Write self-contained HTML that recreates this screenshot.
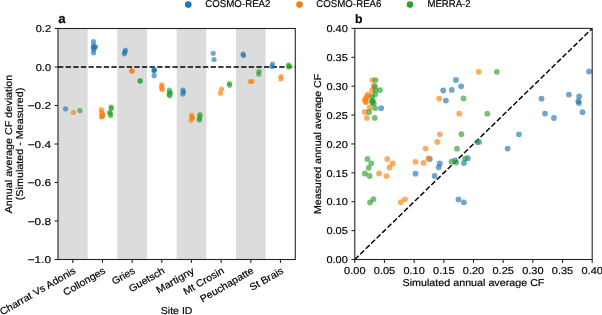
<!DOCTYPE html>
<html><head><meta charset="utf-8"><style>
html,body{margin:0;padding:0;background:#fff;}
body{width:602px;height:315px;overflow:hidden;}
svg{display:block;will-change:transform;}
text{font-family:"Liberation Sans",sans-serif;fill:#000;text-rendering:geometricPrecision;stroke:#000;stroke-width:0.18px;}
</style></head><body>
<svg width="602" height="315" viewBox="0 0 602 315">
<rect x="0" y="0" width="602" height="315" fill="#fff"/>
<g fill="#dcdcdc">
<rect x="58.00" y="28.5" width="29.66" height="231.0"/>
<rect x="117.33" y="28.5" width="29.66" height="231.0"/>
<rect x="176.65" y="28.5" width="29.66" height="231.0"/>
<rect x="235.98" y="28.5" width="29.66" height="231.0"/>
</g>
<line x1="58.0" y1="67" x2="295.3" y2="67" stroke="#000" stroke-width="1.44" stroke-dasharray="5.33 2.3"/>
<g fill="#1f77b4" fill-opacity="0.65">
<circle cx="65.60" cy="108.80" r="2.6"/>
<circle cx="93.50" cy="41.70" r="2.6"/>
<circle cx="93.50" cy="45.50" r="2.6"/>
<circle cx="95.50" cy="46.80" r="2.6"/>
<circle cx="93.30" cy="47.70" r="2.6"/>
<circle cx="93.90" cy="49.70" r="2.6"/>
<circle cx="93.50" cy="52.80" r="2.6"/>
<circle cx="94.20" cy="47.20" r="2.6"/>
<circle cx="125.40" cy="50.40" r="2.6"/>
<circle cx="124.80" cy="52.00" r="2.6"/>
<circle cx="124.40" cy="53.80" r="2.6"/>
<circle cx="154.20" cy="69.50" r="2.6"/>
<circle cx="154.00" cy="71.00" r="2.6"/>
<circle cx="154.10" cy="75.70" r="2.6"/>
<circle cx="154.30" cy="70.00" r="2.6"/>
<circle cx="183.00" cy="90.00" r="2.6"/>
<circle cx="183.50" cy="92.00" r="2.6"/>
<circle cx="182.70" cy="94.00" r="2.6"/>
<circle cx="213.20" cy="53.30" r="2.6"/>
<circle cx="214.00" cy="59.60" r="2.6"/>
<circle cx="243.00" cy="54.00" r="2.6"/>
<circle cx="243.60" cy="55.50" r="2.6"/>
<circle cx="272.50" cy="64.00" r="2.6"/>
<circle cx="272.00" cy="66.50" r="2.6"/>
</g>
<g fill="#ff7f0e" fill-opacity="0.65">
<circle cx="73.50" cy="112.50" r="2.6"/>
<circle cx="101.40" cy="109.70" r="2.6"/>
<circle cx="101.70" cy="112.00" r="2.6"/>
<circle cx="103.40" cy="114.90" r="2.6"/>
<circle cx="101.70" cy="116.90" r="2.6"/>
<circle cx="102.00" cy="115.40" r="2.6"/>
<circle cx="102.00" cy="113.80" r="2.6"/>
<circle cx="101.80" cy="116.50" r="2.6"/>
<circle cx="131.80" cy="70.80" r="2.6"/>
<circle cx="131.80" cy="70.80" r="2.6"/>
<circle cx="131.90" cy="70.90" r="2.6"/>
<circle cx="161.80" cy="84.80" r="2.6"/>
<circle cx="161.70" cy="86.50" r="2.6"/>
<circle cx="161.90" cy="88.50" r="2.6"/>
<circle cx="162.20" cy="89.60" r="2.6"/>
<circle cx="191.50" cy="115.00" r="2.6"/>
<circle cx="192.00" cy="117.00" r="2.6"/>
<circle cx="192.50" cy="118.00" r="2.6"/>
<circle cx="191.00" cy="120.30" r="2.6"/>
<circle cx="221.60" cy="89.10" r="2.6"/>
<circle cx="220.30" cy="93.20" r="2.6"/>
<circle cx="250.30" cy="81.30" r="2.6"/>
<circle cx="252.00" cy="81.50" r="2.6"/>
<circle cx="281.00" cy="76.50" r="2.6"/>
<circle cx="280.80" cy="79.00" r="2.6"/>
</g>
<g fill="#2ca02c" fill-opacity="0.65">
<circle cx="79.90" cy="110.60" r="2.6"/>
<circle cx="111.10" cy="107.10" r="2.6"/>
<circle cx="111.40" cy="108.60" r="2.6"/>
<circle cx="109.70" cy="112.30" r="2.6"/>
<circle cx="110.60" cy="115.40" r="2.6"/>
<circle cx="110.30" cy="113.70" r="2.6"/>
<circle cx="140.20" cy="80.90" r="2.6"/>
<circle cx="140.20" cy="80.90" r="2.6"/>
<circle cx="169.30" cy="90.20" r="2.6"/>
<circle cx="169.50" cy="92.50" r="2.6"/>
<circle cx="170.50" cy="93.00" r="2.6"/>
<circle cx="169.00" cy="94.50" r="2.6"/>
<circle cx="169.80" cy="95.80" r="2.6"/>
<circle cx="200.00" cy="114.50" r="2.6"/>
<circle cx="199.80" cy="116.50" r="2.6"/>
<circle cx="199.50" cy="118.50" r="2.6"/>
<circle cx="199.30" cy="120.00" r="2.6"/>
<circle cx="229.20" cy="83.60" r="2.6"/>
<circle cx="229.70" cy="85.20" r="2.6"/>
<circle cx="259.00" cy="71.50" r="2.6"/>
<circle cx="258.70" cy="74.10" r="2.6"/>
<circle cx="288.50" cy="65.00" r="2.6"/>
<circle cx="288.80" cy="67.00" r="2.6"/>
<circle cx="289.50" cy="66.00" r="2.6"/>
</g>
<line x1="354.8" y1="259.5" x2="592.2" y2="28.4" stroke="#000" stroke-width="1.44" stroke-dasharray="5.33 2.3"/>
<g fill="#1f77b4" fill-opacity="0.65">
<circle cx="381.10" cy="108.20" r="2.92"/>
<circle cx="455.95" cy="80.00" r="2.92"/>
<circle cx="461.10" cy="86.30" r="2.92"/>
<circle cx="443.20" cy="90.50" r="2.92"/>
<circle cx="451.80" cy="89.90" r="2.92"/>
<circle cx="445.90" cy="100.60" r="2.92"/>
<circle cx="477.30" cy="142.10" r="2.92"/>
<circle cx="467.80" cy="158.20" r="2.92"/>
<circle cx="464.00" cy="163.00" r="2.92"/>
<circle cx="455.00" cy="160.50" r="2.92"/>
<circle cx="429.80" cy="159.00" r="2.92"/>
<circle cx="439.70" cy="163.50" r="2.92"/>
<circle cx="438.70" cy="167.30" r="2.92"/>
<circle cx="434.60" cy="175.90" r="2.92"/>
<circle cx="415.50" cy="173.70" r="2.92"/>
<circle cx="458.50" cy="199.40" r="2.92"/>
<circle cx="463.80" cy="202.30" r="2.92"/>
<circle cx="507.60" cy="148.60" r="2.92"/>
<circle cx="519.00" cy="134.30" r="2.92"/>
<circle cx="589.10" cy="71.50" r="2.92"/>
<circle cx="568.90" cy="94.60" r="2.92"/>
<circle cx="579.20" cy="96.40" r="2.92"/>
<circle cx="578.30" cy="101.20" r="2.92"/>
<circle cx="578.90" cy="103.10" r="2.92"/>
<circle cx="541.50" cy="98.70" r="2.92"/>
<circle cx="545.00" cy="113.60" r="2.92"/>
<circle cx="553.90" cy="118.00" r="2.92"/>
<circle cx="582.50" cy="112.20" r="2.92"/>
</g>
<g fill="#ff7f0e" fill-opacity="0.65">
<circle cx="372.30" cy="80.10" r="2.92"/>
<circle cx="373.80" cy="85.80" r="2.92"/>
<circle cx="372.20" cy="90.10" r="2.92"/>
<circle cx="368.10" cy="94.40" r="2.92"/>
<circle cx="367.00" cy="96.30" r="2.92"/>
<circle cx="364.80" cy="99.60" r="2.92"/>
<circle cx="365.70" cy="101.00" r="2.92"/>
<circle cx="369.50" cy="107.70" r="2.92"/>
<circle cx="364.80" cy="112.00" r="2.92"/>
<circle cx="366.90" cy="117.90" r="2.92"/>
<circle cx="366.30" cy="98.20" r="2.92"/>
<circle cx="365.80" cy="102.30" r="2.92"/>
<circle cx="439.20" cy="98.70" r="2.92"/>
<circle cx="459.20" cy="113.70" r="2.92"/>
<circle cx="478.70" cy="71.80" r="2.92"/>
<circle cx="439.80" cy="134.30" r="2.92"/>
<circle cx="437.30" cy="142.00" r="2.92"/>
<circle cx="425.60" cy="148.60" r="2.92"/>
<circle cx="428.30" cy="158.40" r="2.92"/>
<circle cx="423.60" cy="162.90" r="2.92"/>
<circle cx="415.50" cy="161.80" r="2.92"/>
<circle cx="387.30" cy="159.00" r="2.92"/>
<circle cx="392.70" cy="163.40" r="2.92"/>
<circle cx="389.50" cy="167.40" r="2.92"/>
<circle cx="386.60" cy="176.10" r="2.92"/>
<circle cx="379.10" cy="173.50" r="2.92"/>
<circle cx="405.00" cy="199.30" r="2.92"/>
<circle cx="400.80" cy="202.20" r="2.92"/>
</g>
<g fill="#2ca02c" fill-opacity="0.65">
<circle cx="375.50" cy="80.10" r="2.92"/>
<circle cx="375.00" cy="86.30" r="2.92"/>
<circle cx="375.70" cy="90.10" r="2.92"/>
<circle cx="380.00" cy="90.10" r="2.92"/>
<circle cx="375.20" cy="94.40" r="2.92"/>
<circle cx="371.90" cy="96.30" r="2.92"/>
<circle cx="372.20" cy="100.80" r="2.92"/>
<circle cx="372.60" cy="100.40" r="2.92"/>
<circle cx="373.80" cy="103.40" r="2.92"/>
<circle cx="375.10" cy="108.20" r="2.92"/>
<circle cx="369.20" cy="112.20" r="2.92"/>
<circle cx="374.70" cy="117.90" r="2.92"/>
<circle cx="496.80" cy="71.80" r="2.92"/>
<circle cx="463.50" cy="98.40" r="2.92"/>
<circle cx="487.30" cy="113.70" r="2.92"/>
<circle cx="461.40" cy="134.20" r="2.92"/>
<circle cx="479.20" cy="142.10" r="2.92"/>
<circle cx="457.00" cy="148.70" r="2.92"/>
<circle cx="465.00" cy="158.60" r="2.92"/>
<circle cx="451.50" cy="161.70" r="2.92"/>
<circle cx="456.20" cy="162.60" r="2.92"/>
<circle cx="367.40" cy="158.90" r="2.92"/>
<circle cx="371.30" cy="163.30" r="2.92"/>
<circle cx="368.70" cy="167.80" r="2.92"/>
<circle cx="364.90" cy="173.50" r="2.92"/>
<circle cx="369.60" cy="176.00" r="2.92"/>
<circle cx="373.40" cy="199.20" r="2.92"/>
<circle cx="370.00" cy="202.50" r="2.92"/>
<circle cx="372.30" cy="102.60" r="2.92"/>
</g>
<g stroke="#262626" stroke-width="1.1" fill="none">
<rect x="58.0" y="28.5" width="237.3" height="231.0"/>
<rect x="354.8" y="28.4" width="237.40000000000003" height="231.1"/>
<line x1="72.83" y1="259.5" x2="72.83" y2="262.9"/>
<line x1="102.49" y1="259.5" x2="102.49" y2="262.9"/>
<line x1="132.16" y1="259.5" x2="132.16" y2="262.9"/>
<line x1="161.82" y1="259.5" x2="161.82" y2="262.9"/>
<line x1="191.48" y1="259.5" x2="191.48" y2="262.9"/>
<line x1="221.14" y1="259.5" x2="221.14" y2="262.9"/>
<line x1="250.81" y1="259.5" x2="250.81" y2="262.9"/>
<line x1="280.47" y1="259.5" x2="280.47" y2="262.9"/>
<line x1="54.6" y1="28.50" x2="58.0" y2="28.50"/>
<line x1="54.6" y1="67.00" x2="58.0" y2="67.00"/>
<line x1="54.6" y1="105.50" x2="58.0" y2="105.50"/>
<line x1="54.6" y1="144.00" x2="58.0" y2="144.00"/>
<line x1="54.6" y1="182.50" x2="58.0" y2="182.50"/>
<line x1="54.6" y1="221.00" x2="58.0" y2="221.00"/>
<line x1="54.6" y1="259.50" x2="58.0" y2="259.50"/>
<line x1="354.80" y1="259.5" x2="354.80" y2="262.9"/>
<line x1="384.48" y1="259.5" x2="384.48" y2="262.9"/>
<line x1="414.15" y1="259.5" x2="414.15" y2="262.9"/>
<line x1="443.83" y1="259.5" x2="443.83" y2="262.9"/>
<line x1="473.50" y1="259.5" x2="473.50" y2="262.9"/>
<line x1="503.18" y1="259.5" x2="503.18" y2="262.9"/>
<line x1="532.85" y1="259.5" x2="532.85" y2="262.9"/>
<line x1="562.53" y1="259.5" x2="562.53" y2="262.9"/>
<line x1="592.20" y1="259.5" x2="592.20" y2="262.9"/>
<line x1="351.40000000000003" y1="259.50" x2="354.8" y2="259.50"/>
<line x1="351.40000000000003" y1="230.61" x2="354.8" y2="230.61"/>
<line x1="351.40000000000003" y1="201.72" x2="354.8" y2="201.72"/>
<line x1="351.40000000000003" y1="172.84" x2="354.8" y2="172.84"/>
<line x1="351.40000000000003" y1="143.95" x2="354.8" y2="143.95"/>
<line x1="351.40000000000003" y1="115.06" x2="354.8" y2="115.06"/>
<line x1="351.40000000000003" y1="86.18" x2="354.8" y2="86.18"/>
<line x1="351.40000000000003" y1="57.29" x2="354.8" y2="57.29"/>
<line x1="351.40000000000003" y1="28.40" x2="354.8" y2="28.40"/>
</g>
<text x="51.00" y="32.25" text-anchor="end" font-size="9.98" textLength="15.27" lengthAdjust="spacingAndGlyphs">0.2</text>
<text x="51.00" y="70.75" text-anchor="end" font-size="9.98" textLength="15.27" lengthAdjust="spacingAndGlyphs">0.0</text>
<text x="51.00" y="109.25" text-anchor="end" font-size="9.98" textLength="23.31" lengthAdjust="spacingAndGlyphs">−0.2</text>
<text x="51.00" y="147.75" text-anchor="end" font-size="9.98" textLength="23.31" lengthAdjust="spacingAndGlyphs">−0.4</text>
<text x="51.00" y="186.25" text-anchor="end" font-size="9.98" textLength="23.31" lengthAdjust="spacingAndGlyphs">−0.6</text>
<text x="51.00" y="224.75" text-anchor="end" font-size="9.98" textLength="23.31" lengthAdjust="spacingAndGlyphs">−0.8</text>
<text x="51.00" y="263.25" text-anchor="end" font-size="9.98" textLength="23.31" lengthAdjust="spacingAndGlyphs">−1.0</text>
<text x="347.80" y="263.25" text-anchor="end" font-size="9.98" textLength="21.38" lengthAdjust="spacingAndGlyphs">0.00</text>
<text x="347.80" y="234.36" text-anchor="end" font-size="9.98" textLength="21.38" lengthAdjust="spacingAndGlyphs">0.05</text>
<text x="347.80" y="205.47" text-anchor="end" font-size="9.98" textLength="21.38" lengthAdjust="spacingAndGlyphs">0.10</text>
<text x="347.80" y="176.59" text-anchor="end" font-size="9.98" textLength="21.38" lengthAdjust="spacingAndGlyphs">0.15</text>
<text x="347.80" y="147.70" text-anchor="end" font-size="9.98" textLength="21.38" lengthAdjust="spacingAndGlyphs">0.20</text>
<text x="347.80" y="118.81" text-anchor="end" font-size="9.98" textLength="21.38" lengthAdjust="spacingAndGlyphs">0.25</text>
<text x="347.80" y="89.93" text-anchor="end" font-size="9.98" textLength="21.38" lengthAdjust="spacingAndGlyphs">0.30</text>
<text x="347.80" y="61.04" text-anchor="end" font-size="9.98" textLength="21.38" lengthAdjust="spacingAndGlyphs">0.35</text>
<text x="347.80" y="32.15" text-anchor="end" font-size="9.98" textLength="21.38" lengthAdjust="spacingAndGlyphs">0.40</text>
<text x="354.80" y="273.50" text-anchor="middle" font-size="9.98" textLength="21.38" lengthAdjust="spacingAndGlyphs">0.00</text>
<text x="384.48" y="273.50" text-anchor="middle" font-size="9.98" textLength="21.38" lengthAdjust="spacingAndGlyphs">0.05</text>
<text x="414.15" y="273.50" text-anchor="middle" font-size="9.98" textLength="21.38" lengthAdjust="spacingAndGlyphs">0.10</text>
<text x="443.83" y="273.50" text-anchor="middle" font-size="9.98" textLength="21.38" lengthAdjust="spacingAndGlyphs">0.15</text>
<text x="473.50" y="273.50" text-anchor="middle" font-size="9.98" textLength="21.38" lengthAdjust="spacingAndGlyphs">0.20</text>
<text x="503.18" y="273.50" text-anchor="middle" font-size="9.98" textLength="21.38" lengthAdjust="spacingAndGlyphs">0.25</text>
<text x="532.85" y="273.50" text-anchor="middle" font-size="9.98" textLength="21.38" lengthAdjust="spacingAndGlyphs">0.30</text>
<text x="562.53" y="273.50" text-anchor="middle" font-size="9.98" textLength="21.38" lengthAdjust="spacingAndGlyphs">0.35</text>
<text x="592.20" y="273.50" text-anchor="middle" font-size="9.98" textLength="21.38" lengthAdjust="spacingAndGlyphs">0.40</text>
<text x="72.83" y="273.60" text-anchor="end" font-size="9.98" textLength="85.83" lengthAdjust="spacingAndGlyphs" transform="rotate(-30 72.83 266.30)">Charrat Vs Adonis</text>
<text x="102.49" y="273.60" text-anchor="end" font-size="9.98" textLength="46.87" lengthAdjust="spacingAndGlyphs" transform="rotate(-30 102.49 266.30)">Collonges</text>
<text x="132.16" y="273.60" text-anchor="end" font-size="9.98" textLength="24.96" lengthAdjust="spacingAndGlyphs" transform="rotate(-30 132.16 266.30)">Gries</text>
<text x="161.82" y="273.60" text-anchor="end" font-size="9.98" textLength="39.56" lengthAdjust="spacingAndGlyphs" transform="rotate(-30 161.82 266.30)">Guetsch</text>
<text x="191.48" y="273.60" text-anchor="end" font-size="9.98" textLength="42.40" lengthAdjust="spacingAndGlyphs" transform="rotate(-30 191.48 266.30)">Martigny</text>
<text x="221.14" y="273.60" text-anchor="end" font-size="9.98" textLength="45.16" lengthAdjust="spacingAndGlyphs" transform="rotate(-30 221.14 266.30)">Mt Crosin</text>
<text x="250.81" y="273.60" text-anchor="end" font-size="9.98" textLength="60.09" lengthAdjust="spacingAndGlyphs" transform="rotate(-30 250.81 266.30)">Peuchapatte</text>
<text x="280.47" y="273.60" text-anchor="end" font-size="9.98" textLength="36.99" lengthAdjust="spacingAndGlyphs" transform="rotate(-30 280.47 266.30)">St Brais</text>
<text x="473.50" y="286.20" text-anchor="middle" font-size="9.98" textLength="141.88" lengthAdjust="spacingAndGlyphs">Simulated annual average CF</text>
<text x="176.65" y="314.30" text-anchor="middle" font-size="9.98" textLength="31.71" lengthAdjust="spacingAndGlyphs">Site ID</text>
<text x="0.00" y="0.00" text-anchor="middle" font-size="9.98" textLength="140.26" lengthAdjust="spacingAndGlyphs" transform="translate(320.7 143.95) rotate(-90)">Measured annual average CF</text>
<text x="0.00" y="0.00" text-anchor="middle" font-size="9.98" textLength="138.67" lengthAdjust="spacingAndGlyphs" transform="translate(12.1 144.00) rotate(-90)">Annual average CF deviation</text>
<text x="0.00" y="0.00" text-anchor="middle" font-size="9.98" textLength="112.46" lengthAdjust="spacingAndGlyphs" transform="translate(22.85 144.00) rotate(-90)">(Simulated - Measured)</text>
<text x="58.3" y="22.6" font-size="13.2" font-weight="bold">a</text>
<text x="355.0" y="22.8" font-size="12.2" font-weight="bold">b</text>
<circle cx="188.3" cy="4.6" r="3.3" fill="#1f77b4"/>
<text x="205.20" y="7.00" text-anchor="start" font-size="9.98" textLength="65.33" lengthAdjust="spacingAndGlyphs">COSMO-REA2</text>
<circle cx="299.5" cy="4.6" r="3.3" fill="#ff7f0e"/>
<text x="316.20" y="7.00" text-anchor="start" font-size="9.98" textLength="65.33" lengthAdjust="spacingAndGlyphs">COSMO-REA6</text>
<circle cx="410.0" cy="4.6" r="3.3" fill="#2ca02c"/>
<text x="427.40" y="7.00" text-anchor="start" font-size="9.98" textLength="43.23" lengthAdjust="spacingAndGlyphs">MERRA-2</text>
</svg>
</body></html>
